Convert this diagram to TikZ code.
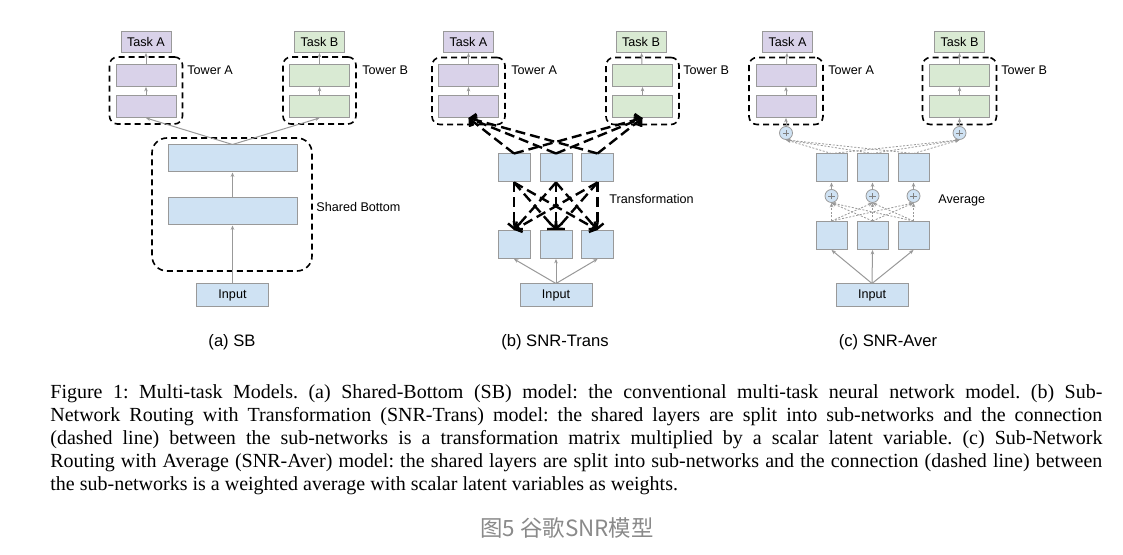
\documentclass[tikz,border=0pt]{standalone}
\usepackage{fontspec}
\setmainfont{Liberation Serif}
\setsansfont{Liberation Sans}
\newfontfamily\cjkfont{Noto Sans CJK SC}
\usetikzlibrary{arrows.meta,positioning}
\usepackage{xcolor}
\frenchspacing

\definecolor{boxblue}{HTML}{CFE2F3}
\definecolor{boxpurple}{HTML}{D9D2E9}
\definecolor{boxgreen}{HTML}{D9EAD3}
\definecolor{edgegray}{HTML}{999999}
\definecolor{capgray}{HTML}{8A8A8A}

\begin{document}
\begin{tikzpicture}[x=0.5pt, y=-0.5pt, >={Stealth[length=2.2pt,width=1.8pt]},
    every node/.style={font=\sffamily\fontsize{6.3}{7.5}\selectfont},
    layer/.style={draw=edgegray, line width=0.5pt, inner sep=0pt},
    task/.style={layer, minimum width=25pt, minimum height=10.5pt},
    tower/.style={layer, minimum width=30pt, minimum height=11pt},
    sharedlayer/.style={layer, fill=boxblue, minimum width=64.5pt, minimum height=13.5pt},
    inputbox/.style={layer, fill=boxblue, minimum width=36pt, minimum height=11.5pt},
    subnet/.style={layer, fill=boxblue, minimum width=16pt, minimum height=14pt},
    sumnode/.style={circle, draw=edgegray, line width=0.4pt, fill=boxblue, minimum size=6.5pt, inner sep=0pt,
        path picture={\draw[gray, line width=0.35pt]
            ([xshift=-1.6pt]path picture bounding box.center) -- ([xshift=1.6pt]path picture bounding box.center)
            ([yshift=-1.6pt]path picture bounding box.center) -- ([yshift=1.6pt]path picture bounding box.center);}},
    frame/.style={draw, thick, dash pattern=on 3pt off 2pt, rounded corners=4pt, inner sep=0pt},
    feed/.style={->, draw=edgegray, line width=0.5pt},
    trans/.style={-{Straight Barb[length=2.5pt,width=6pt]}, line width=1.2pt, dash pattern=on 5pt off 2.5pt},
    avg/.style={->, draw=edgegray, line width=0.4pt, dash pattern=on 1pt off 0.8pt},
    lbl/.style={anchor=west, inner sep=0pt},
    sub/.style={font=\sffamily\fontsize{8.3}{10}\selectfont}]
    \useasboundingbox (0,0) rectangle (1123,555);
    \fill[white] (0,0) rectangle (1123,555);

    % (a) Shared-Bottom
    \node[frame, minimum width=36.5pt, minimum height=33.5pt] (a-frameA) at (146,90.5) {};
    \node[frame, minimum width=36.5pt, minimum height=33.5pt] (a-frameB) at (319.5,90.5) {};
    \node[frame, rounded corners=7.5pt, minimum width=80pt, minimum height=66.5pt] (a-frameS) at (232,204.5) {};
    \node[task, fill=boxpurple] (a-taskA) at (146,42) {Task A};
    \node[task, fill=boxgreen] (a-taskB) at (319.5,42) {Task B};
    \node[tower, fill=boxpurple] (a-towA1) at (146,75.5) {};
    \node[tower, fill=boxpurple] (a-towA2) at (146,106.5) {};
    \node[tower, fill=boxgreen] (a-towB1) at (319.5,75.5) {};
    \node[tower, fill=boxgreen] (a-towB2) at (319.5,106.5) {};
    \node[sharedlayer] (a-sb1) at (232.5,158.5) {};
    \node[sharedlayer] (a-sb2) at (232.5,211.5) {};
    \node[inputbox] (a-input) at (232.5,295.5) {Input};
    \node[lbl] (a-lblA) at (187,70) {Tower A};
    \node[lbl] (a-lblB) at (362,70) {Tower B};
    \node[lbl] (a-lblS) at (316,207) {Shared Bottom};
    \node[sub] (a-cap) at (232,342) {(a) SB};

    \draw[feed] (a-input) -- (a-sb2);
    \draw[feed] (a-sb2) -- (a-sb1);
    \draw[feed] (a-sb1.north) -- (a-towA2.south);
    \draw[feed] (a-sb1.north) -- (a-towB2.south);
    \draw[feed] (a-towA2) -- (a-towA1);
    \draw[feed] (a-towA1) -- (a-taskA);
    \draw[feed] (a-towB2) -- (a-towB1);
    \draw[feed] (a-towB1) -- (a-taskB);

    % (b) SNR-Trans
    \node[frame, minimum width=36.5pt, minimum height=33.5pt] (b-frameA) at (468.5,91) {};
    \node[frame, minimum width=36.5pt, minimum height=33.5pt] (b-frameB) at (642.5,91) {};
    \node[task, fill=boxpurple] (b-taskA) at (468.5,42) {Task A};
    \node[task, fill=boxgreen] (b-taskB) at (641,42) {Task B};
    \node[tower, fill=boxpurple] (b-towA1) at (468.5,75.5) {};
    \node[tower, fill=boxpurple] (b-towA2) at (468.5,106.5) {};
    \node[tower, fill=boxgreen] (b-towB1) at (642.5,75.5) {};
    \node[tower, fill=boxgreen] (b-towB2) at (642.5,106.5) {};
    \node[subnet] (b-up1) at (514,168) {};
    \node[subnet] (b-up2) at (556,168) {};
    \node[subnet] (b-up3) at (597.5,168) {};
    \node[subnet] (b-lo1) at (514,244.5) {};
    \node[subnet] (b-lo2) at (556,244.5) {};
    \node[subnet] (b-lo3) at (597.5,244.5) {};
    \node[inputbox] (b-input) at (556,295.5) {Input};
    \node[lbl] (b-lblA) at (511,70) {Tower A};
    \node[lbl] (b-lblB) at (683,70) {Tower B};
    \node[lbl] (b-lblT) at (609,199) {Transformation};
    \node[sub] (b-cap) at (555,342) {(b) SNR-Trans};

    \draw[feed] (b-input.north) -- (b-lo1.south);
    \draw[feed] (b-input.north) -- (b-lo2.south);
    \draw[feed] (b-input.north) -- (b-lo3.south);

    \draw[trans] (b-up1.south) -- (b-lo1.north);
    \draw[trans] (b-up1.south) -- (b-lo2.north);
    \draw[trans] (b-up1.south) -- (b-lo3.north);
    \draw[trans] (b-up2.south) -- (b-lo1.north);
    \draw[trans] (b-up2.south) -- (b-lo2.north);
    \draw[trans] (b-up2.south) -- (b-lo3.north);
    \draw[trans] (b-up3.south) -- (b-lo1.north);
    \draw[trans] (b-up3.south) -- (b-lo2.north);
    \draw[trans] (b-up3.south) -- (b-lo3.north);

    \draw[trans] (b-up1.north) -- (b-towA2.south);
    \draw[trans] (b-up2.north) -- (b-towA2.south);
    \draw[trans] (b-up3.north) -- (b-towA2.south);
    \draw[trans] (b-up1.north) -- (b-towB2.south);
    \draw[trans] (b-up2.north) -- (b-towB2.south);
    \draw[trans] (b-up3.north) -- (b-towB2.south);

    \draw[feed] (b-towA2) -- (b-towA1);
    \draw[feed] (b-towA1) -- (b-taskA);
    \draw[feed] (b-towB2) -- (b-towB1);
    \draw[feed] (b-towB1) -- (b-taskB);

    % (c) SNR-Aver
    \node[frame, minimum width=37pt, minimum height=33.5pt] (c-frameA) at (786,91) {};
    \node[frame, minimum width=37pt, minimum height=33.5pt] (c-frameB) at (959.5,91) {};
    \node[task, fill=boxpurple] (c-taskA) at (787.5,42) {Task A};
    \node[task, fill=boxgreen] (c-taskB) at (959.5,42) {Task B};
    \node[tower, fill=boxpurple] (c-towA1) at (786,75.5) {};
    \node[tower, fill=boxpurple] (c-towA2) at (786,106.5) {};
    \node[tower, fill=boxgreen] (c-towB1) at (959.5,75.5) {};
    \node[tower, fill=boxgreen] (c-towB2) at (959.5,106.5) {};
    \node[sumnode] (c-sumA) at (786,133) {};
    \node[sumnode] (c-sumB) at (959.5,133) {};
    \node[subnet, minimum width=15.5pt] (c-up1) at (831.5,168) {};
    \node[subnet, minimum width=15.5pt] (c-up2) at (872.5,168) {};
    \node[subnet, minimum width=15.5pt] (c-up3) at (913.5,168) {};
    \node[sumnode] (c-sum1) at (831.5,196) {};
    \node[sumnode] (c-sum2) at (872.5,196) {};
    \node[sumnode] (c-sum3) at (913.5,196) {};
    \node[subnet, minimum width=15.5pt] (c-lo1) at (831.5,235.5) {};
    \node[subnet, minimum width=15.5pt] (c-lo2) at (872.5,235.5) {};
    \node[subnet, minimum width=15.5pt] (c-lo3) at (913.5,235.5) {};
    \node[inputbox] (c-input) at (872,295.5) {Input};
    \node[lbl] (c-lblA) at (828,70) {Tower A};
    \node[lbl] (c-lblB) at (1001,70) {Tower B};
    \node[lbl] (c-lblV) at (938,200) {Average};
    \node[sub] (c-cap) at (888,342) {(c) SNR-Aver};

    \draw[feed] (c-input.north) -- (c-lo1.south);
    \draw[feed] (c-input.north) -- (c-lo2.south);
    \draw[feed] (c-input.north) -- (c-lo3.south);

    \draw[avg] (c-lo1.north) -- (c-sum1.south);
    \draw[avg] (c-lo1.north) -- (c-sum2.south);
    \draw[avg] (c-lo1.north) -- (c-sum3.south);
    \draw[avg] (c-lo2.north) -- (c-sum1.south);
    \draw[avg] (c-lo2.north) -- (c-sum2.south);
    \draw[avg] (c-lo2.north) -- (c-sum3.south);
    \draw[avg] (c-lo3.north) -- (c-sum1.south);
    \draw[avg] (c-lo3.north) -- (c-sum2.south);
    \draw[avg] (c-lo3.north) -- (c-sum3.south);

    \draw[feed] (c-sum1) -- (c-up1);
    \draw[feed] (c-sum2) -- (c-up2);
    \draw[feed] (c-sum3) -- (c-up3);

    \draw[avg] (c-up1.north) -- (c-sumA.south);
    \draw[avg] (c-up2.north) -- (c-sumA.south);
    \draw[avg] (c-up3.north) -- (c-sumA.south);
    \draw[avg] (c-up1.north) -- (c-sumB.south);
    \draw[avg] (c-up2.north) -- (c-sumB.south);
    \draw[avg] (c-up3.north) -- (c-sumB.south);

    \draw[feed] (c-sumA) -- (c-towA2);
    \draw[feed] (c-sumB) -- (c-towB2);
    \draw[feed] (c-towA2) -- (c-towA1);
    \draw[feed] (c-towA1) -- (c-taskA);
    \draw[feed] (c-towB2) -- (c-towB1);
    \draw[feed] (c-towB1) -- (c-taskB);

    % Caption
    \node[anchor=north west, inner sep=0pt, text width=526pt, align=justify,
          font=\rmfamily\fontsize{10}{11.5}\selectfont] (caption) at (50,384)
    {Figure 1: Multi-task Models. (a) Shared-Bottom (SB) model: the conventional multi-task neural network model. (b) Sub-\linebreak
    Network Routing with Transformation (SNR-Trans) model: the shared layers are split into sub-networks and the connection\linebreak
    (dashed line) between the sub-networks is a transformation matrix multiplied by a scalar latent variable. (c) Sub-Network\linebreak
    Routing with Average (SNR-Aver) model: the shared layers are split into sub-networks and the connection (dashed line) between\linebreak
    the sub-networks is a weighted average with scalar latent variables as weights.};
    \node[font=\cjkfont\fontsize{11.2}{13}\selectfont, text=capgray] (title) at (567,528) {图5 谷歌SNR模型};
\end{tikzpicture}
\end{document}
